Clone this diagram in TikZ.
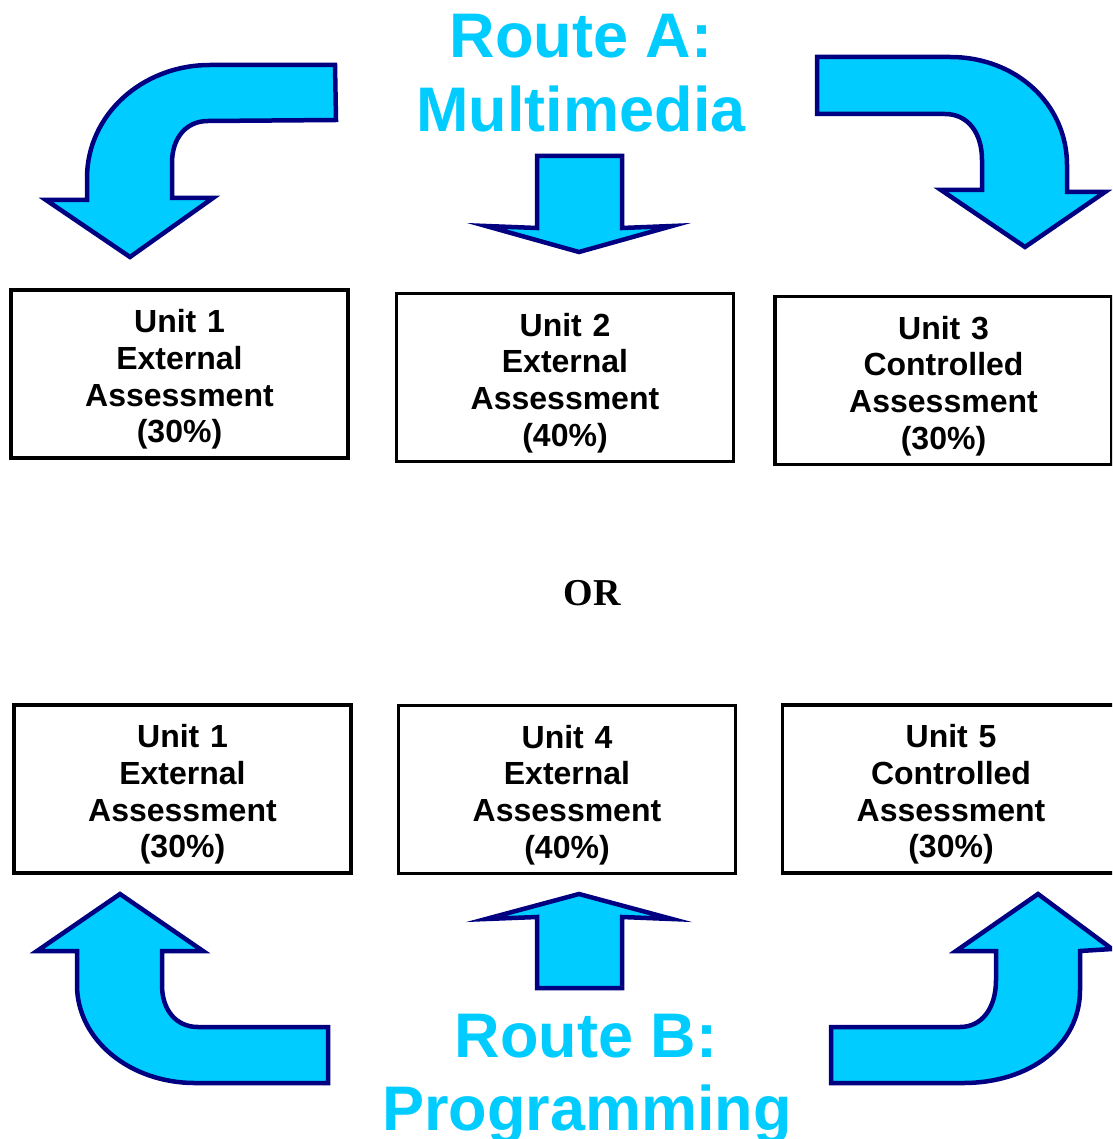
\documentclass[tikz,border=0pt]{standalone}
\usepackage{fontspec}
\setmainfont{Liberation Sans}
\newfontfamily\orfont{Liberation Serif}
\usepackage{tikz}
\usetikzlibrary{positioning}

\definecolor{routecyan}{RGB}{0,204,255}
\definecolor{routenavy}{RGB}{0,0,128}
\tikzset{
  unitbox/.style={draw, line width=3.5pt, minimum width=337pt, minimum height=168pt,
    inner sep=0pt, text width=330pt, align=center,
    font=\fontsize{32}{36.7}\selectfont\bfseries,
    execute at begin node=\rule{0pt}{34pt}},
  bigarrow/.style={draw=routenavy, fill=routecyan, line width=4.5pt},
  routetitle/.style={text=routecyan, anchor=base, inner sep=0pt,
    font=\fontsize{63}{74}\selectfont\bfseries},
}

\begin{document}
\begin{tikzpicture}[x=1pt, y=-1pt]
  \useasboundingbox (0,0) rectangle (1112,1139);
  \clip (0,0) rectangle (1112,1139);

  % route A
  \node[routetitle] (routeA) at (581,58) {Route A:};
  \node[routetitle] (mediaA) at (581,132) {Multimedia};
  \draw[bigarrow] (335,65) -- (210,65) .. controls (142,65) and (87,115) .. (87,178)
    -- (87,200) -- (46,200) -- (130,257) -- (213,198) -- (172,198) -- (172,163)
    .. controls (172,138) and (186,121) .. (208,121) -- (336,120) -- cycle; % left
  \draw[bigarrow] (537,156) -- (622,156) -- (622,228) -- (672,226) -- (579,252)
    -- (486,226) -- (537,228) -- cycle; % middle
  \draw[bigarrow] (817,57) -- (950,57) .. controls (1017,57) and (1067,105) .. (1067,165)
    -- (1067,192) -- (1105,192) -- (1025,247) -- (941,190) -- (982,190) -- (982,160)
    .. controls (982,133) and (968,114) .. (945,114) -- (817,114) -- cycle; % right

  \node[unitbox] (a1) at (179.5,374) {Unit 1\\External\\Assessment\\(30\%)};
  \node[unitbox] (a2) at (565,377.5) {Unit 2\\External\\Assessment\\(40\%)};
  \node[unitbox] (a3) at (943.5,380.5) {Unit 3\\Controlled\\Assessment\\(30\%)};

  \node[font=\orfont\fontsize{38}{40}\selectfont\bfseries] (or) at (592,593) {OR};

  % route B
  \node[unitbox] (b1) at (182.5,789) {Unit 1\\External\\Assessment\\(30\%)};
  \node[unitbox] (b4) at (567,789.5) {Unit 4\\External\\Assessment\\(40\%)};
  \node[unitbox] (b5) at (951,789) {Unit 5\\Controlled\\Assessment\\(30\%)};

  \draw[bigarrow] (120,894) -- (203,951) -- (162,951) -- (162,985)
    .. controls (162,1010) and (176,1027) .. (198,1027) -- (328,1027) -- (328,1083)
    -- (195,1083) .. controls (130,1083) and (77,1040) .. (77,985) -- (77,951)
    -- (37,951) -- cycle; % left
  \draw[bigarrow] (579,894) -- (672,919) -- (622,917) -- (622,988) -- (537,988)
    -- (537,917) -- (486,919) -- cycle; % middle
  \draw[bigarrow] (1038,894) -- (1112,949) -- (1080,951) -- (1080,990)
    .. controls (1080,1045) and (1030,1083) .. (963,1083) -- (831,1083) -- (831,1027)
    -- (960,1027) .. controls (982,1027) and (996,1008) .. (996,980) -- (996,951)
    -- (956,951) -- cycle; % right
  \node[routetitle] (routeB) at (586,1057) {Route B:};
  \node[routetitle] (progB) at (587,1130) {Programming};
\end{tikzpicture}
\end{document}
